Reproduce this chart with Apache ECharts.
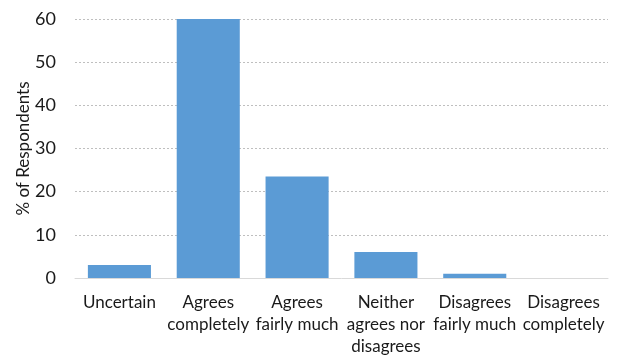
<!DOCTYPE html>
<html>
<head>
<meta charset="utf-8">
<script src="https://cdn.jsdelivr.net/npm/echarts@6/dist/echarts.min.js"></script>
<style>
  html, body { margin: 0; padding: 0; background: #fff; }
  #chart { width: 626px; height: 358px; }
</style>
</head>
<body>
<div id="chart"></div>
<script>
const categories = ['Uncertain', 'Agrees\ncompletely', 'Agrees\nfairly much', 'Neither\nagrees nor\ndisagrees', 'Disagrees\nfairly much', 'Disagrees\ncompletely']
const percentValues = [3, 60, 23.5, 6, 1, 0]
const yTicks = [0, 10, 20, 30, 40, 50, 60]

const chart = echarts.init(document.getElementById('chart'))
const font = 'Lato, "Open Sans", sans-serif'

chart.setOption({
  backgroundColor: '#fff',
  animation: false,
  grid: {
    left: 75,
    right: 18,
    top: 19,
    bottom: 80
  },
  xAxis: {
    type: 'category',
    data: categories,
    axisLine: { lineStyle: { color: '#d9d9d9', width: 1 } },
    axisTick: { show: false },
    axisLabel: {
      interval: 0,
      color: '#1a1a1a',
      fontFamily: font,
      fontSize: 17,
      lineHeight: 22,
      margin: 14
    }
  },
  yAxis: {
    type: 'value',
    min: yTicks[0],
    max: yTicks[yTicks.length - 1],
    interval: 10,
    name: '% of Respondents',
    nameLocation: 'middle',
    nameGap: 43,
    nameMoveOverlap: false,
    nameTextStyle: { color: '#1a1a1a', fontFamily: font, fontSize: 17 },
    axisLine: { show: false },
    axisTick: { show: false },
    axisLabel: { color: '#1a1a1a', fontFamily: font, fontSize: 18, margin: 19 },
    splitLine: { lineStyle: { color: '#bfbfbf', type: [2, 2], width: 1 } }
  },
  series: [{
    type: 'bar',
    data: percentValues,
    barCategoryGap: '29%',
    itemStyle: { color: '#5b9bd5' }
  }]
})
</script>
</body>
</html>
